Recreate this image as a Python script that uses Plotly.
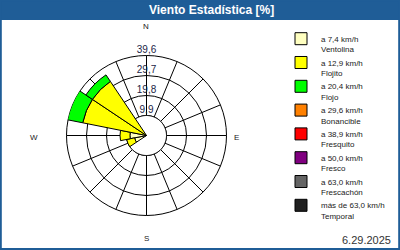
import plotly.graph_objects as go
import numpy as np

# ---- data ----
directions = ["N", "NNE", "NE", "ENE", "E", "ESE", "SE", "SSE",
              "S", "SSW", "SW", "WSW", "W", "WNW", "NW", "NNW"]
direction_deg = [i * 22.5 for i in range(len(directions))]

speed_labels = [
    "a 7,4 km/h<br>Ventolina",
    "a 12,9 km/h<br>Flojito",
    "a 20,4 km/h<br>Flojo",
    "a 29,6 km/h<br>Bonancible",
    "a 38,9 km/h<br>Fresquito",
    "a 50,0 km/h<br>Fresco",
    "a 63,0 km/h<br>Frescachón",
    "más de 63,0 km/h<br>Temporal",
]
speed_colors = ["#FFFFC0", "#FFFF00", "#00FF00", "#FF8000",
                "#FF0000", "#800080", "#646464", "#202020"]

#              N  NNE NE ENE E ESE SE SSE S SSW SW  WSW  W    WNW   NW    NNW
ventolina   = [0, 0, 0, 0, 0, 0, 0, 0, 0, 0, 0, 6.0, 8.2, 0.0,  0.0,  0]
flojito     = [0, 0, 0, 0, 0, 0, 0, 0, 0, 0, 0, 4.0, 4.9, 32.2, 32.2, 0]
flojo       = [0, 0, 0, 0, 0, 0, 0, 0, 0, 0, 0, 0.0, 0.0, 8.8,  3.9,  0]
bonancible  = [0] * 16
fresquito   = [0] * 16
fresco      = [0] * 16
frescachon  = [0] * 16
temporal    = [0] * 16
series = [ventolina, flojito, flojo, bonancible, fresquito, fresco, frescachon, temporal]

radial_tickvals = [9.9, 19.8, 29.7, 39.6]
radial_ticktext = ["9,9", "19,8", "29,7", "39,6"]

compass_labels = ["N", "E", "S", "W"]
title_text = "Viento Estadística [%]"
date_text = "6.29.2025"

# ---- figure ----
W, H = 400, 250
BLUE = "#1f5d97"
FONT = "Liberation Sans"

fig = go.Figure()

# bottom polar: grid and inner (hole) circle at the first ring
circ_theta = np.linspace(0, 360, 145)
fig.add_trace(go.Scatterpolar(
    r=[radial_tickvals[0]] * len(circ_theta), theta=circ_theta,
    mode="lines", fill="toself", fillcolor="white",
    line=dict(color="black", width=1), showlegend=False, hoverinfo="skip",
    subplot="polar"))

# top polar: stacked bars
for vals, name, col in zip(series, speed_labels, speed_colors):
    fig.add_trace(go.Barpolar(
        r=[v if v else None for v in vals], theta=direction_deg, width=22.5,
        name=name, marker=dict(color=col, line=dict(color="black", width=1)),
        opacity=1, subplot="polar2"))

fig.add_trace(go.Scatterpolar(
    r=radial_tickvals, theta=[0] * len(radial_tickvals), mode="text",
    text=radial_ticktext, textposition="top center",
    textfont=dict(family=FONT, size=10, color="#1c2447"),
    showlegend=False, hoverinfo="skip", subplot="polar2"))

cx, cy, R = 146.5, 135.5, 80
domain = dict(x=[(cx - R) / W, (cx + R) / W],
              y=[1 - (cy + R) / H, 1 - (cy - R) / H])
radial_common = dict(range=[0, radial_tickvals[-1]], tickvals=radial_tickvals,
                     showticklabels=False, ticks="", showline=False)
angular_common = dict(direction="clockwise", rotation=90, tickmode="array",
                      tickvals=direction_deg, showticklabels=False, ticks="")

fig.update_layout(
    width=W, height=H, margin=dict(l=0, r=0, t=0, b=0),
    paper_bgcolor="white", plot_bgcolor="white",
    polar=dict(
        domain=domain, bgcolor="white",
        radialaxis=dict(**radial_common, gridcolor="black", gridwidth=1,
                        layer="below traces"),
        angularaxis=dict(**angular_common, gridcolor="black", gridwidth=1,
                         linecolor="black", linewidth=1, showline=True,
                         layer="below traces"),
    ),
    polar2=dict(
        domain=domain, bgcolor="rgba(0,0,0,0)", barmode="stack",
        radialaxis=dict(**radial_common, showgrid=False),
        angularaxis=dict(**angular_common, showgrid=False, showline=False),
    ),
    showlegend=True,
    legend=dict(x=281 / W, y=1 - 27 / H, xanchor="left", yanchor="top",
                font=dict(family=FONT, size=8, color="#222222"),
                bgcolor="rgba(0,0,0,0)", traceorder="normal",
                itemclick=False, valign="top"),
    shapes=[
        dict(type="rect", xref="paper", yref="paper", x0=0, x1=1,
             y0=1 - 20 / H, y1=1, fillcolor=BLUE, line=dict(width=0), layer="below"),
        dict(type="rect", xref="paper", yref="paper", x0=0.002, x1=0.998,
             y0=0.004, y1=0.998, line=dict(color=BLUE, width=2), fillcolor="rgba(0,0,0,0)"),
    ],
)

annotations = [
    dict(x=211 / W, y=1 - 10 / H, text="<b>" + title_text + "</b>",
         font=dict(family=FONT, size=12, color="white")),
    dict(x=393 / W, y=1 - 240 / H, text=date_text, xanchor="right",
         font=dict(family=FONT, size=11, color="#333333")),
]
compass_pos = {"N": (146, 27), "E": (236, 137), "S": (146, 238), "W": (34, 137)}
for lab in compass_labels:
    px, py = compass_pos[lab]
    annotations.append(dict(x=px / W, y=1 - py / H, text=lab,
                            font=dict(family=FONT, size=8, color="#222222")))
for a in annotations:
    a.setdefault("xanchor", "center")
    a.update(xref="paper", yref="paper", yanchor="middle", showarrow=False)
fig.update_layout(annotations=annotations)

fig.write_html("out.html")
